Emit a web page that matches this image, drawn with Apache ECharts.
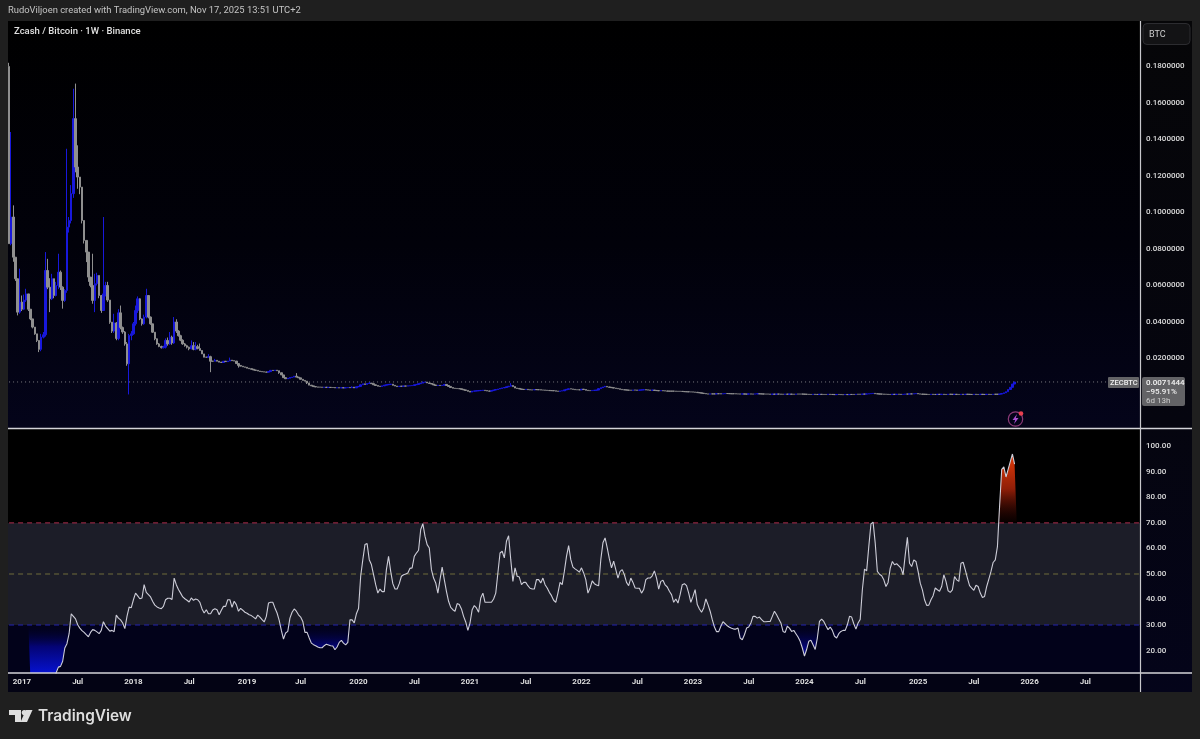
<!DOCTYPE html>
<html><head><meta charset="utf-8">
<style>html,body{margin:0;padding:0;background:#1f1f1f}#c{width:1200px;height:739px}</style>
<script src="https://cdn.jsdelivr.net/npm/echarts@6/dist/echarts.min.js"></script>
</head><body><div id="c"></div>
<script>
const startDate = '2016-11-21';
const weekCount = 528;
const firstOpen = 0.18;
const closes = [
.0829,.0975,.0755,.0637,.0454,.0509,.0470,.0520,.0554,.0470,.0417,.0372,.0335,.0299,.0250,.0317,.0330,.0682,.0591,.0527,
.0637,.0545,.0600,.0673,.0591,.0518,.0573,.0920,.0956,.1103,.1514,.1249,.1194,.1139,.0956,.0847,.0783,.0646,.0600,.0518,
.0610,.0655,.0545,.0463,.0554,.0600,.0520,.0399,.0350,.0395,.0310,.0450,.0370,.0345,.0280,.0171,.0326,.0335,.0390,.0463,
.0527,.0417,.0390,.0427,.0545,.0427,.0390,.0344,.0308,.0280,.0266,.0259,.0262,.0299,.0280,.0317,.0285,.0400,.0350,.0325,
.0300,.0280,.0270,.0262,.0253,.0270,.0250,.0265,.0255,
.0244,.0225,.0207,.0207,.0210,.0185,.0185,.0190,.0185,.0180,.0178,.0185,.0183,.0186,.0191,.0188,.0186,.0172,.0162,.0158,
.0154,.0152,.0147,.0144,.0141,.0137,.0135,.0131,.0129,.0127,.0126,.0125,.0128,.0135,.0134,.0136,.0133,.0122,.0110,.0095,
.0089,.0092,.0096,.0098,.0103,.0098,.0094,.0086,.0080,.0076,.0066,.0054,.0050,.0046,.0044,.0043,.0043,.0042,.0043,.0041,
.0042,.0041,.0041,.0039,.0040,.0039,.0040,.0039,.0040,.0041,.0040,.0043,.0039,.0045,.0047,.0056,.0061,.0058,.0063,.0065,
.0062,.0056,.0052,.0048,.0047,.0050,.0054,.0056,.0058,.0059,.0053,.0049,.0046,.0048,.0048,.0049,.0049,.0050,.0051,.0052,
.0056,.0058,.0062,.0065,.0070,.0071,.0066,.0063,.0060,.0055,.0052,.0053,.0052,.0053,.0058,.0052,.0047,.0041,.0037,.0036,
.0035,.0034,.0031,.0028,.0025,.0020,.0016,.0021,.0022,.0023,.0024,.0025,.0026,.0024,.0022,.0021,.0024,.0027,.0030,.0033,
.0036,.0039,.0041,.0045,.0048,.0052,.0046,.0038,.0036,.0033,.0031,.0030,.0031,.0029,.0028,.0028,.0030,.0029,.0029,.0027,
.0027,.0026,.0025,.0024,.0024,.0023,.0021,.0020,.0022,.0023,.0028,.0031,.0034,.0033,.0031,.0029,.0029,.0028,
.0032,.0030,.0026,.0024,.0024,.0025,.0026,.0027,.0035,.0040,.0044,.0047,.0044,.0042,.0040,.0038,.0036,.0034,.0031,.0029,
.0028,.0027,.0026,.0026,.0027,.0027,.0026,.0027,.0028,.0029,.0028,.0027,.0026,.0027,.0025,.0024,.0023,.0024,.0023,.0022,
.0021,.0021,.0021,.0021,.0020,.0020,.0020,.0019,.0018,.0018,.0017,.0017,.0016,.0015,.0013,.0012,.0010,.0008,.0006,.0005,
.0006,.0006,.0006,.0007,.0007,.0006,.0007,.0008,.0008,.0007,.0007,.0007,
.0006,.0006,.0005,.0006,.0005,.0005,.0006,.0005,.0005,.0006,.0007,.0006,.0006,.0005,.0005,.0005,.0004,.0005,.0004,.0005,
.0005,.0004,.0004,.0005,.0004,.0005,.0004,.0004,.0005,.0005,.0005,
.0005,.0004,.0004,.0003,.0003,.0004,.0003,.0003,.0004,.0003,.0003,.0003,.0004,.0003,.0003,.0002,.0003,.0003,.0002,.0002,
.0003,.0002,.0003,.0003,.0003,.0004,.0004,.0004,.0005,.0005,.0006,.0007,.0008,.0009,.0007,.0006,.0005,.0005,.0004,.0004,
.0003,.0003,.0004,.0003,.0004,.0004,.0003,.0004,.0005,.0005,.0006,.0006,.0007,.0008,.0006,.0005,.0004,.0004,.0003,.0003,
.0004,.0003,.0003,.0004,.0003,.0004,.0003,.0003,.0004,.0004,.0003,.0004,.0003,.0003,.0004,.0003,.0004,.0004,.0003,.0003,
.0004,.0003,.0003,.0004,.0003,.0003,.0004,.0003,.0003,.0004,.0004,.0004,.0005,
.0008,.0012,.0018,.0030,.0042,.0060,.0071];
const earlyHighs = [
.182,.1441,.1039,.0755,.0637,.0692,.0545,.0550,.0582,.0554,.0470,.0417,.0372,.0335,.0299,.0335,.0345,.0783,.0746,.0640,
.0664,.0637,.0620,.0774,.0682,.0595,.0580,.1349,.0975,.1150,.1678,.1706,.1368,.1194,.1139,.0956,.0847,.0783,.0646,.0774,
.0664,.0670,.0655,.0545,.0975,.0620,.0620,.0520,.0400,.0445,.0400,.0470,.0490,.0375,.0350,.0290,.0335,.0350,.0400,.0490,
.0540,.0530,.0420,.0440,.0582,.0545,.0430,.0390,.0345,.0310,.0285,.0270,.0270,.0310,.0315,.0345,.0325,.0427,.0415,.0355,
.0330,.0305,.0285,.0275,.0265,.0299,.0290,.0290,.0275];
const earlyLows = [
.0829,.0820,.0730,.0625,.0436,.0445,.0460,.0465,.0510,.0460,.0410,.0365,.0330,.0290,.0235,.0240,.0310,.0320,.0580,.0454,
.0520,.0530,.0540,.0580,.0575,.0473,.0510,.0560,.0890,.0940,.1080,.1220,.1130,.1100,.0940,.0830,.0728,.0620,.0590,.0500,
.0454,.0600,.0530,.0450,.0460,.0540,.0510,.0390,.0340,.0340,.0300,.0300,.0360,.0335,.0270,.0160,.0003,.0300,.0330,.0380,
.0450,.0410,.0380,.0385,.0420,.0420,.0385,.0340,.0300,.0275,.0262,.0255,.0255,.0255,.0270,.0275,.0275,.0280,.0340,.0320,
.0295,.0275,.0265,.0255,.0245,.0250,.0245,.0245,.0250];
const laterHighs = {89:.0282,93:.0224,94:.0215,96:.0198,103:.0205,134:.0120,160:.0047,168:.0070,193:.0074,234:.0065,278:.0050};
const laterLows = {94:.0125,107:.0150,126:.0116,139:.0060};
const rsiStart = 10;
const rsiValues = [
8,8,8,8,8,8,8,8,8,8,8,8,
11.4,13.5,13.8,15.8,21,22.7,26.6,34.4,33.4,32.4,30.1,28.8,27.8,27.1,26.2,25.4,27.1,28.2,27.9,27.3,26.6,27.9,31.3,29.6,28.6,27.6,27.9,27.4,
33.9,32.7,32,30.8,28.6,33.4,37,36.8,39.9,42.5,41.4,40.3,40.6,45.8,42.8,41.9,41,39.2,37.8,37.1,36.7,36.4,37.3,39.9,40.5,40.5,40,48.4,45.8,43.9,
42.5,41,40.3,39.7,39,40.6,39.7,40.2,39.9,38.9,36.3,34.7,36,34.4,34.4,35.9,36.4,36,34,35.8,37.3,37.3,39.9,39.9,36.9,39.3,38,35.4,36.5,35.8,
35,34.6,34,33.7,33.1,32.4,33.9,33.1,32.1,31.2,33.4,38.6,38.9,38.9,36.7,34.7,31.8,27.9,24.5,26.9,27.5,32.7,35,36.3,35.4,34,33.1,31.4,27.1,27.1,
24.9,22.9,22.3,21.9,21.4,21.1,21.1,21.9,22.5,22.2,21.9,21.8,20.3,21.4,23.2,24,22.9,22.2,23.2,32,32,30.8,34.4,36.5,49.1,55.6,61.5,61.9,55.6,53.7,
49.7,45.8,42.5,44.1,43.1,43.1,51.7,56.9,51,46.2,44.1,44.1,46.2,49.1,49.7,50,50.4,52.2,52.4,56.9,58.2,59.3,67.4,69.7,64.8,61.5,60.2,51.7,48.4,46.5,
42.5,47.8,52.7,47.8,43.2,39.3,36.9,36,35.4,38.4,38,36.3,33.4,31.2,27.9,30.8,36,37.6,36.7,35,40.6,42.5,38.9,38.9,38.9,38.9,40.2,42.5,50.4,58.2,
58.9,56.3,62.8,65,55.6,47.1,52.4,49.1,48.8,45.8,46.7,46.7,45.4,44.4,44.1,44.1,47.8,47.8,46.5,48.4,45.8,44.5,42.8,41.5,39.7,38.9,42.5,46.7,45.8,51,
56.9,61.1,55.6,52.7,52,51.4,50.7,52.4,50.4,47.8,42.5,44.5,47.3,46.2,45.7,45.4,55.6,62.2,64.1,60.2,55.9,52.4,55,51.7,48.4,51,51.7,49.7,46.7,45.4,
48.4,46.7,44.5,44.4,44.4,42.5,43.9,47.8,48.4,48.4,49.3,51.2,48.4,44.1,47.1,47.5,45.7,44.9,43.2,41.9,38.9,40.2,38.6,41.9,45.8,46.2,45.4,42.5,38.9,41.2,
43.9,38,36.3,35,36.7,40.2,38,35.4,32.1,29.2,27.4,27.4,29.5,31.3,30.5,29.7,29.1,28.7,28.4,28.4,28.8,24.9,24.2,26.2,28.8,29.2,30.8,33.4,33.4,32.7,
33.1,32.1,31.3,31.3,31.4,31.4,33.4,35.4,34,32.4,30.8,27.5,27.1,29.5,28.8,27.5,27.9,26.6,25.3,23.6,21,17.8,20.4,23.6,24,22.3,20.4,24.9,31.4,32.3,
31.4,29.7,28.2,29.2,27.9,25.6,24.9,26.6,27.5,27.9,27.9,30.1,33.4,33.1,30.5,28.4,30.8,32.2,43.8,51.9,51.2,60.7,69.6,70.3,62.1,51,49.9,49.3,47.7,45.1,
46.7,52.3,54.9,53.6,54,53.2,52.3,49.7,57.5,64.4,54.2,52.9,55.5,54.9,51,46.4,43.8,39.9,37.7,37.8,39.9,41.5,44.5,43.8,43.2,45.1,49.7,47.1,43.4,42.8,
43.8,49,47.7,47.1,54.2,54.6,51.6,48.4,45.4,44.5,43.6,45.6,45.1,42.5,40.8,41.2,45.1,48,51,54.5,55.5,60.7,76.4,91,92,88,91,94,97,93];
const timeLabels = {'2017-01-02':'2017','2017-07-03':'Jul','2018-01-01':'2018','2018-07-02':'Jul','2019-01-07':'2019','2019-07-01':'Jul',
'2020-01-06':'2020','2020-07-06':'Jul','2021-01-04':'2021','2021-07-05':'Jul','2022-01-03':'2022','2022-07-04':'Jul','2023-01-02':'2023',
'2023-07-03':'Jul','2024-01-01':'2024','2024-07-01':'Jul','2025-01-06':'2025','2025-07-07':'Jul','2026-01-05':'2026','2026-07-06':'Jul'};
const priceTicks = [.02,.04,.06,.08,.10,.12,.14,.16,.18];
const rsiTicks = [20,30,40,50,60,70,80,90,100];
const lastPrice = 0.0071444;
const level70 = 70;
const level50 = 50;
const level30 = 30;

const weeks = [];
for (let i = 0; i < weekCount; i++) {
  weeks.push(new Date(Date.parse(startDate + 'T00:00:00Z') + i * 7 * 864e5).toISOString().slice(0, 10));
}
const candles = closes.map((c, i) => {
  const o = i ? closes[i - 1] : firstOpen;
  const h = i < earlyHighs.length ? earlyHighs[i] : (laterHighs[i] ?? Math.max(o, c));
  const l = i < earlyLows.length ? earlyLows[i] : (laterLows[i] ?? Math.min(o, c));
  return [o, c, l, h];
});
const lastPriceLine = weeks.map(() => lastPrice);
const rsi = weeks.map((_, i) => (i >= rsiStart && i - rsiStart < rsiValues.length) ? rsiValues[i - rsiStart] : null);
const oversold = rsi.map(v => v === null ? 30 : Math.min(v, 30));
const overbought = rsi.map(v => v === null ? 70 : Math.max(v, 70));

const G = echarts.graphic.LinearGradient;
const FONT = 'Roboto, "Open Sans", sans-serif';
const AX = '#dedede';
const txt = (x, y, text, size, fill, weight, extra) => ({type:'text', z:100, x, y, silent:true,
  style:Object.assign({text, fill, font:(weight||500)+' '+size+'px '+FONT, textVerticalAlign:'middle'}, extra||{})});
const line = (x1,y1,x2,y2,stroke,w) => ({type:'line', z:60, silent:true, shape:{x1,y1,x2,y2}, style:{stroke, lineWidth:w||1}});
const levelSeries = (v, color) => ({type:'line', xAxisIndex:1, yAxisIndex:1, data:weeks.map(() => v), symbol:'none', silent:true, z:4,
  lineStyle:{color, type:[5,4], width:1.1}});
const chart = echarts.init(document.getElementById('c'), null, {renderer:'canvas'});
chart.setOption({
  animation:false, backgroundColor:'#1f1f1f',
  graphic:[
    {type:'rect', z:-5, silent:true, shape:{x:1140,y:21,width:52,height:671},
      style:{fill:new G(0,0,0,1,[{offset:0,color:'#060608'},{offset:.6,color:'#05050f'},{offset:1,color:'#04041a'}])}},
    {type:'rect', z:-5, silent:true, shape:{x:8,y:673,width:1132,height:19}, style:{fill:'#030314'}},
    line(8,428.5,1192,428.5,'#d4d4d8',1.4),
    line(8,673,1192,673,'#d4d4d8',1.4),
    line(1140.5,21,1140.5,692,'#c8c8cc',1.2),
    txt(8,11,'RudoViljoen created with TradingView.com, Nov 17, 2025 13:51 UTC+2',9.4,'#c4c4c4',400),
    txt(14,32,'Zcash / Bitcoin · 1W · Binance',9.5,'#e0e0e0',500),
    {type:'rect', z:90, silent:true, shape:{x:1143,y:23.5,width:47,height:21,r:4}, style:{fill:'#131315',stroke:'#2c2c30',lineWidth:1}},
    txt(1149,34.5,'BTC',9,'#cfcfcf',400),
    {type:'rect', z:90, silent:true, shape:{x:1108,y:377,width:31,height:11,r:1}, style:{fill:'#636366'}},
    txt(1110,382.7,'ZECBTC',7.5,'#f0f0f0',500),
    {type:'rect', z:90, silent:true, shape:{x:1142,y:377,width:43,height:29,r:2}, style:{fill:'#636366'}},
    txt(1146,383,'0.0071444',8,'#f4f4f4',500),
    txt(1146,392,'−95.91%',8,'#f0f0f0',500),
    txt(1146,401,'6d 13h',8,'#cdcdcd',400),
    {type:'circle', z:90, silent:true, shape:{cx:1015.5,cy:419,r:7.2}, style:{fill:'transparent',stroke:'#8c3a78',lineWidth:1.2}},
    {type:'polygon', z:91, silent:true, shape:{points:[[1017,414],[1012.5,420],[1015.2,420],[1014,424],[1018.5,418],[1015.8,418]]}, style:{fill:'#a84fd0'}},
    {type:'circle', z:92, silent:true, shape:{cx:1021,cy:413.5,r:2.3}, style:{fill:'#e8404f'}},
    {type:'polygon', z:90, silent:true, shape:{points:[[9,710],[21,710],[21,722],[15,722],[15,715],[9,715]]}, style:{fill:'#dedede'}},
    {type:'circle', z:90, silent:true, shape:{cx:24.3,cy:712.6,r:2.6}, style:{fill:'#dedede'}},
    {type:'polygon', z:90, silent:true, shape:{points:[[26,710],[32.5,710],[27,722],[20.5,722]]}, style:{fill:'#dedede'}},
    txt(38,716,'TradingView',15.4,'#dedede',600,{font:'600 15.4px Inter, Roboto, sans-serif'})
  ],
  grid:[
    {left:8, top:21, width:1132, height:407, show:true, borderWidth:0,
      backgroundColor:new G(0,0,0,1,[{offset:0,color:'#000000'},{offset:.55,color:'#01010a'},{offset:1,color:'#04041a'}])},
    {left:8, top:429, width:1132, height:244, show:true, borderWidth:0, backgroundColor:'#000000'}
  ],
  xAxis:[
    {type:'category', gridIndex:0, data:weeks, show:false},
    {type:'category', gridIndex:1, data:weeks, axisLine:{show:false}, axisTick:{show:false}, splitLine:{show:false},
      axisLabel:{color:AX, fontFamily:FONT, fontSize:8, fontWeight:700, margin:5,
        interval:(i, v) => v in timeLabels, formatter:v => timeLabels[v] || ''}}
  ],
  yAxis:[
    {type:'value', gridIndex:0, position:'right', min:-0.01808, max:0.2049, splitLine:{show:false}, axisLine:{show:false}, axisTick:{show:false},
      axisLabel:{customValues:priceTicks, formatter:v => v.toFixed(7), color:AX, fontFamily:FONT, fontSize:8, fontWeight:500, margin:6, padding:[2,0,0,0]}},
    {type:'value', gridIndex:1, position:'right', min:11.2, max:106.8, splitLine:{show:false}, axisLine:{show:false}, axisTick:{show:false},
      axisLabel:{customValues:rsiTicks, formatter:v => v.toFixed(2), color:AX, fontFamily:FONT, fontSize:8, fontWeight:500, margin:6, padding:[2,0,0,0]}}
  ],
  series:[
    {type:'line', name:'Last price', xAxisIndex:0, yAxisIndex:0, data:lastPriceLine, symbol:'none', silent:true, z:1,
      lineStyle:{color:'#808084', type:[1,3], width:1}},
    {type:'candlestick', name:'ZECBTC', xAxisIndex:0, yAxisIndex:0, data:candles, barWidth:2, clip:true, z:3,
      itemStyle:{color:'#1818dc', color0:'#8f8f8f', borderColor:'#1818dc', borderColor0:'#8f8f8f', borderColorDoji:'#8f8f8f', borderWidth:1}},
    {type:'line', name:'Bands', xAxisIndex:1, yAxisIndex:1, data:[], symbol:'none', silent:true, z:1,
      markArea:{silent:true, z:1, data:[
        [{yAxis:30, itemStyle:{color:'#1c1d28'}},{yAxis:70}],
        [{yAxis:11.2, itemStyle:{color:'#02021a'}},{yAxis:30}]
      ]}},
    {type:'line', name:'Oversold', xAxisIndex:1, yAxisIndex:1, data:oversold, symbol:'none', silent:true, z:2, clip:true,
      lineStyle:{width:0.01, opacity:0}, areaStyle:{origin:30, opacity:1,
        color:new G(0,625,0,673,[{offset:0,color:'rgba(0,0,40,0)'},{offset:.45,color:'#040475'},{offset:1,color:'#0612cf'}],true)}},
    {type:'line', name:'Overbought', xAxisIndex:1, yAxisIndex:1, data:overbought, symbol:'none', silent:true, z:2, clip:true,
      lineStyle:{width:0.01, opacity:0}, areaStyle:{origin:70, opacity:1,
        color:new G(0,523,0,455,[{offset:0,color:'rgba(50,4,2,0.15)'},{offset:.5,color:'#8f1e08'},{offset:1,color:'#e23a08'}],true)}},
    levelSeries(level70, '#8e2640'),
    levelSeries(level50, '#6f6c3a'),
    levelSeries(level30, '#2323b0'),
    {type:'line', name:'RSI', xAxisIndex:1, yAxisIndex:1, data:rsi, symbol:'none', silent:true, z:5, clip:true,
      lineStyle:{color:'#cdcdd8', width:1.1}}
  ]
});
</script></body></html>
